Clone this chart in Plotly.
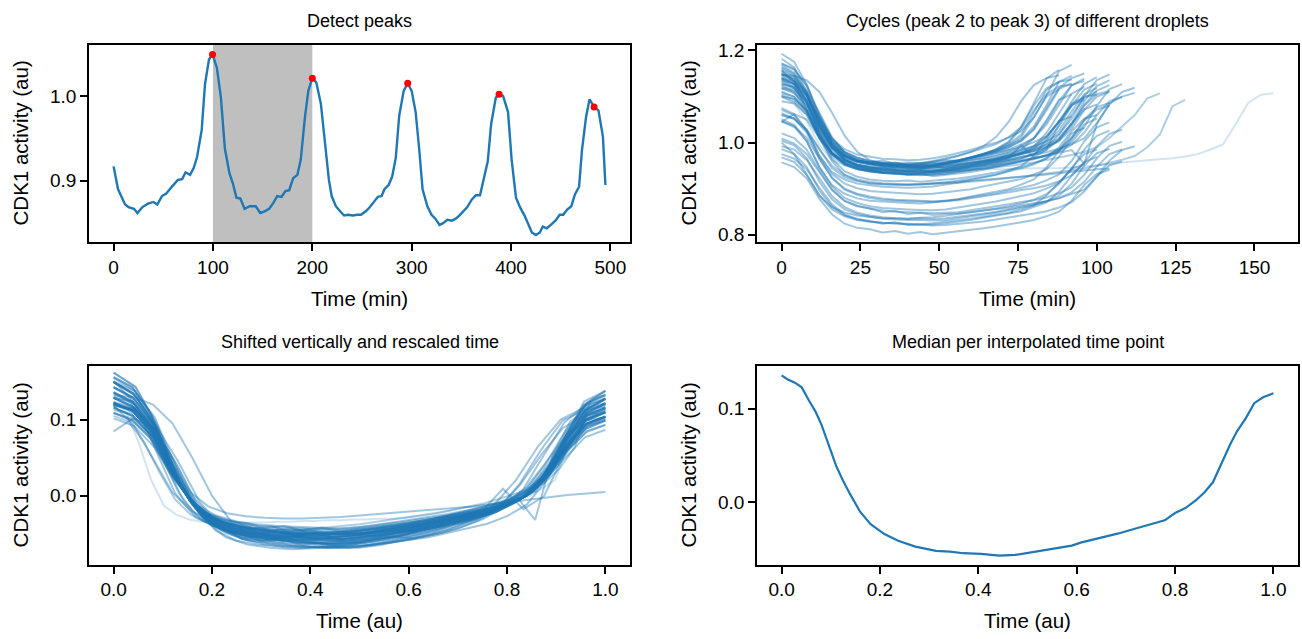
import plotly.graph_objects as go

W, H = 1302, 639
BLUE = "#1f77b4"
FONT = "Liberation Sans, Arial, sans-serif"

# ---------------- Panel 1: single droplet trace ----------------
trace_time = [0, 4.5, 11.6, 15, 20.5, 24, 29, 34.6, 40, 44, 48.7, 53, 58, 64.7, 69, 72.4, 77, 80.6, 84, 88.7,
              92, 96, 99.6, 104, 108, 112, 116.6, 120, 123.7, 127.6, 131.8, 137, 143, 147.7, 152, 156.6, 160.8,
              164.7, 169, 173, 176.8, 180.7, 185, 188.4, 192.6, 196, 200, 204, 208.6, 213, 216.7, 219.5, 223.7,
              228, 232, 236, 240.8, 245, 249, 253.8, 258, 262.6, 266, 269.8, 272.6, 276.8, 280.4, 284, 287.5,
              292, 296, 300, 304, 307.7, 311, 315.8, 320, 324, 328, 331.6, 336, 340.4, 344, 348, 351.7, 356,
              360.6, 364.6, 368.8, 372.3, 376.6, 380, 384.7, 388, 392, 397, 400.6, 405, 409.4, 413.6, 418, 421,
              425, 429, 432, 436, 440, 444.7, 449, 452.6, 456.5, 460.7, 464.3, 468.5, 471.4, 475.5, 479, 483.6,
              488, 492.5, 495]
trace_cdk1 = [0.917, 0.890, 0.872, 0.869, 0.867, 0.862, 0.869, 0.873, 0.875, 0.872, 0.882, 0.885, 0.892, 0.901,
              0.902, 0.910, 0.907, 0.915, 0.928, 0.960, 1.014, 1.043, 1.049, 1.033, 0.998, 0.938, 0.909, 0.897,
              0.880, 0.879, 0.867, 0.870, 0.870, 0.862, 0.864, 0.867, 0.874, 0.882, 0.881, 0.888, 0.889, 0.903,
              0.907, 0.925, 0.975, 1.006, 1.021, 1.016, 0.991, 0.944, 0.901, 0.882, 0.870, 0.864, 0.859, 0.860,
              0.859, 0.860, 0.860, 0.864, 0.869, 0.876, 0.881, 0.882, 0.890, 0.895, 0.905, 0.927, 0.977, 1.006,
              1.015, 1.006, 0.981, 0.936, 0.890, 0.870, 0.860, 0.855, 0.848, 0.850, 0.854, 0.853, 0.855, 0.859,
              0.864, 0.869, 0.878, 0.883, 0.883, 0.901, 0.923, 0.967, 0.998, 1.002, 1.000, 0.981, 0.925, 0.880,
              0.868, 0.859, 0.848, 0.839, 0.836, 0.839, 0.846, 0.844, 0.848, 0.853, 0.860, 0.860, 0.866, 0.870,
              0.884, 0.893, 0.936, 0.975, 0.996, 0.987, 0.983, 0.952, 0.895]
peak_time = [99.6, 200, 296, 388, 483.6]
peak_cdk1 = [1.049, 1.021, 1.015, 1.002, 0.987]
span_start, span_end = 100, 200

# ---------------- Panel 2: cycles of different droplets (4-min sampling) ----------------
cycle_step = 4
cycles = [
    [1.193,1.175,1.126,1.054,1.007,0.986,0.974,0.969,0.965,0.964,0.962,0.963,0.966,0.971,0.977,0.984,0.993,1.000,1.011,1.025,1.054,1.102,1.155,1.169],
    [1.182,1.163,1.109,1.035,0.989,0.971,0.961,0.957,0.954,0.952,0.951,0.953,0.958,0.964,0.971,0.979,0.988,0.997,1.012,1.033,1.085,1.139,1.158],
    [1.171,1.158,1.122,1.058,1.009,0.980,0.968,0.960,0.955,0.957,0.950,0.953,0.948,0.952,0.956,0.961,0.966,0.971,0.978,0.985,0.992,1.003,1.018,1.052,1.101,1.136,1.148],
    [1.164,1.149,1.113,1.047,1.002,0.978,0.967,0.960,0.957,0.955,0.953,0.951,0.952,0.956,0.960,0.964,0.971,0.977,0.983,0.990,1.001,1.014,1.045,1.089,1.127,1.142],
    [1.157,1.143,1.109,1.048,1.001,0.974,0.962,0.954,0.952,0.946,0.948,0.943,0.946,0.946,0.951,0.955,0.960,0.965,0.972,0.978,0.985,0.996,1.010,1.042,1.090,1.123,1.135],
    [1.150,1.134,1.091,1.028,0.987,0.968,0.958,0.953,0.950,0.949,0.947,0.948,0.951,0.956,0.961,0.967,0.974,0.981,0.990,1.003,1.028,1.070,1.116,1.129],
    [1.146,1.133,1.101,1.042,0.998,0.971,0.960,0.953,0.948,0.946,0.945,0.944,0.943,0.945,0.949,0.954,0.958,0.963,0.969,0.976,0.982,0.992,1.006,1.037,1.082,1.113,1.125],
    [1.143,1.127,1.087,1.021,0.976,0.954,0.943,0.938,0.935,0.932,0.931,0.930,0.932,0.937,0.941,0.948,0.953,0.960,0.967,0.978,0.991,1.021,1.065,1.106,1.121],
    [1.139,1.127,1.100,1.053,1.008,0.980,0.966,0.958,0.955,0.950,0.952,0.947,0.949,0.945,0.948,0.951,0.955,0.959,0.963,0.969,0.974,0.979,0.987,0.997,1.009,1.043,1.083,1.110,1.119],
    [1.136,1.120,1.075,1.013,0.975,0.960,0.952,0.948,0.946,0.944,0.943,0.945,0.949,0.954,0.960,0.967,0.974,0.982,0.994,1.012,1.055,1.100,1.116],
    [1.132,1.118,1.084,1.021,0.977,0.954,0.944,0.938,0.934,0.932,0.931,0.929,0.930,0.933,0.938,0.942,0.948,0.953,0.960,0.966,0.976,0.989,1.018,1.060,1.097,1.111],
    [1.129,1.118,1.088,1.035,0.995,0.971,0.961,0.956,0.950,0.951,0.946,0.947,0.946,0.948,0.952,0.955,0.959,0.964,0.970,0.975,0.981,0.990,1.003,1.030,1.071,1.100,1.110],
    [1.125,1.110,1.069,1.009,0.970,0.952,0.942,0.938,0.935,0.934,0.932,0.933,0.936,0.940,0.945,0.951,0.958,0.964,0.973,0.985,1.009,1.049,1.093,1.105],
    [1.118,1.107,1.079,1.032,0.989,0.963,0.952,0.947,0.940,0.942,0.936,0.939,0.934,0.936,0.938,0.941,0.945,0.950,0.955,0.960,0.965,0.971,0.980,0.995,1.022,1.060,1.090,1.099],
    [1.111,1.099,1.066,1.012,0.975,0.957,0.948,0.944,0.941,0.939,0.939,0.938,0.939,0.943,0.947,0.952,0.957,0.962,0.967,0.976,0.987,1.012,1.048,1.082,1.093],
    [1.104,1.094,1.066,1.015,0.977,0.955,0.945,0.939,0.935,0.933,0.932,0.932,0.931,0.932,0.936,0.940,0.943,0.948,0.953,0.959,0.964,0.973,0.985,1.011,1.050,1.077,1.086],
    [1.161,1.145,1.105,1.039,0.994,0.972,0.961,0.956,0.953,0.950,0.949,0.948,0.950,0.955,0.959,0.966,0.971,0.978,0.985,0.996,1.009,1.039,1.083,1.124,1.139],
    [1.154,1.136,1.087,1.018,0.976,0.960,0.951,0.947,0.945,0.942,0.941,0.943,0.948,0.953,0.960,0.968,0.975,0.984,0.997,1.017,1.065,1.114,1.132],
    [1.150,1.137,1.103,1.046,0.994,0.963,0.949,0.943,0.935,0.936,0.930,0.933,0.927,0.930,0.932,0.936,0.941,0.947,0.953,0.959,0.965,0.972,0.984,1.001,1.034,1.080,1.116,1.127],
    [1.100,1.089,1.061,1.010,0.975,0.956,0.947,0.942,0.940,0.938,0.937,0.936,0.936,0.939,0.942,0.946,0.951,0.955,0.960,0.965,0.974,0.984,1.008,1.042,1.072,1.083],
    [1.168,1.151,1.104,1.035,0.990,0.969,0.958,0.953,0.950,0.949,0.946,0.948,0.951,0.956,0.961,0.968,0.976,0.983,0.994,1.007,1.035,1.081,1.132,1.145],
    [1.140,1.126,1.092,1.029,0.985,0.962,0.952,0.946,0.942,0.940,0.939,0.937,0.938,0.941,0.946,0.950,0.956,0.961,0.968,0.974,0.984,0.997,1.026,1.068,1.105,1.119],
    [1.071,1.059,1.028,0.971,0.932,0.911,0.901,0.895,0.893,0.891,0.890,0.888,0.889,0.892,0.895,0.899,0.905,0.910,0.915,0.921,0.931,0.942,0.969,1.007,1.040,1.052],
    [1.064,1.052,1.021,0.965,0.923,0.898,0.887,0.880,0.876,0.874,0.873,0.872,0.871,0.873,0.877,0.881,0.885,0.890,0.896,0.902,0.908,0.918,0.931,0.960,1.003,1.033,1.044],
    [1.051,1.038,1.003,0.946,0.908,0.889,0.879,0.874,0.872,0.870,0.869,0.868,0.870,0.874,0.877,0.883,0.888,0.893,0.899,0.909,0.920,0.946,0.984,1.020,1.032],
    [1.046,1.036,1.010,0.965,0.924,0.900,0.889,0.883,0.879,0.876,0.875,0.874,0.873,0.874,0.875,0.879,0.883,0.887,0.892,0.897,0.901,0.907,0.916,0.929,0.956,0.992,1.019,1.028],
    [1.075,1.062,1.025,0.971,0.936,0.920,0.911,0.907,0.904,0.903,0.902,0.903,0.905,0.909,0.913,0.919,0.925,0.930,0.939,0.949,0.971,1.007,1.047,1.057],
    [1.009,0.998,0.975,0.936,0.897,0.873,0.862,0.857,0.849,0.852,0.845,0.848,0.843,0.845,0.846,0.849,0.852,0.856,0.859,0.864,0.868,0.873,0.879,0.888,0.898,0.927,0.961,0.984,0.992],
    [1.004,0.994,0.966,0.915,0.877,0.855,0.845,0.839,0.835,0.833,0.832,0.832,0.831,0.832,0.836,0.840,0.843,0.848,0.853,0.859,0.864,0.873,0.885,0.911,0.950,0.977,0.986],
    [0.986,0.975,0.947,0.896,0.861,0.842,0.833,0.830,0.824,0.827,0.821,0.822,0.822,0.825,0.828,0.832,0.837,0.841,0.846,0.851,0.860,0.870,0.894,0.928,0.958,0.969],
    [0.975,0.965,0.942,0.902,0.866,0.844,0.835,0.829,0.826,0.824,0.823,0.822,0.820,0.821,0.823,0.826,0.829,0.833,0.837,0.842,0.846,0.851,0.859,0.871,0.894,0.926,0.951,0.959],
    [0.968,0.958,0.930,0.885,0.855,0.840,0.832,0.828,0.826,0.825,0.824,0.823,0.825,0.828,0.831,0.835,0.839,0.843,0.848,0.855,0.864,0.885,0.915,0.943,0.953],
    [0.957,0.947,0.922,0.878,0.844,0.824,0.815,0.812,0.805,0.808,0.802,0.806,0.801,0.804,0.807,0.810,0.814,0.818,0.822,0.827,0.832,0.840,0.850,0.874,0.908,0.932,0.941],
    [1.046,1.034,1.003,0.947,0.905,0.880,0.869,0.862,0.858,0.856,0.855,0.854,0.853,0.855,0.859,0.863,0.867,0.872,0.878,0.884,0.890,0.900,0.913,0.942,0.985,1.015,1.026],
    [1.020,1.010,0.984,0.939,0.898,0.874,0.863,0.857,0.853,0.850,0.849,0.848,0.847,0.848,0.849,0.853,0.857,0.861,0.866,0.871,0.875,0.881,0.890,0.903,0.930,0.966,0.993,1.002],
    [1.060,1.052,1.025,0.985,0.950,0.930,0.920,0.915,0.912,0.910,0.909,0.909,0.910,0.911,0.913,0.915,0.917,0.920,0.923,0.926,0.929,0.932,0.936,0.940,0.944,0.950,0.956,0.963,0.971,0.990,1.018,1.079,1.093],
    [1.118,1.110,1.082,1.035,0.990,0.962,0.948,0.941,0.937,0.935,0.934,0.934,0.935,0.936,0.938,0.940,0.943,0.946,0.949,0.953,0.957,0.962,0.967,0.973,0.980,0.990,1.010,1.035,1.060,1.096,1.107],
    [1.100,1.085,1.045,0.995,0.962,0.950,0.944,0.941,0.940,0.939,0.939,0.940,0.940,0.941,0.941,0.942,0.942,0.943,0.943,0.944,0.944,0.945,0.945,0.946,0.948,0.950,0.953,0.957,0.960,0.962,0.964,0.966,0.970,0.975,0.985,0.996,1.040,1.086,1.104,1.107],
    [1.158,1.130,1.070,1.010,0.978,0.965,0.958,0.955,0.951,0.953,0.950,0.952,0.955,0.953,0.958,0.962,0.966,0.973,0.980,0.992,1.010,1.045,1.090,1.125,1.134],
    [1.147,1.145,1.135,1.110,1.065,1.015,0.980,0.962,0.955,0.950,0.948,0.947,0.949,0.950,0.953,0.957,0.960,0.966,0.972,0.978,0.988,1.003,1.035,1.080,1.115,1.128],
    [1.135,1.128,1.102,1.055,1.000,0.972,0.960,0.957,0.961,0.954,0.952,0.955,0.958,0.962,0.960,0.967,0.975,0.985,1.000,1.030,1.070,1.105,1.122,1.126],
    [1.126,1.122,1.095,1.050,0.998,0.965,0.950,0.942,0.945,0.940,0.938,0.941,0.939,0.942,0.945,0.948,0.952,0.957,0.963,0.968,0.975,0.988,1.005,1.040,1.080,1.105,1.112],
    [1.148,1.140,1.105,1.045,0.995,0.970,0.960,0.956,0.954,0.955,0.957,0.956,0.960,0.966,0.972,0.980,0.992,1.012,1.045,1.090,1.125,1.140,1.146],
    [1.120,1.115,1.090,1.040,0.990,0.962,0.952,0.946,0.944,0.947,0.943,0.944,0.946,0.950,0.953,0.957,0.962,0.967,0.975,0.982,0.993,1.012,1.045,1.080,1.100,1.104],
    [1.172,1.160,1.125,1.062,1.005,0.975,0.962,0.957,0.955,0.953,0.954,0.956,0.955,0.958,0.962,0.967,0.972,0.980,0.990,1.005,1.030,1.075,1.118,1.140,1.150],
    [1.090,1.085,1.060,1.012,0.965,0.938,0.926,0.920,0.917,0.916,0.918,0.915,0.917,0.920,0.922,0.926,0.930,0.935,0.941,0.947,0.955,0.966,0.982,1.010,1.048,1.072,1.080],
    [1.139,1.133,1.110,1.065,1.012,0.978,0.962,0.955,0.951,0.950,0.952,0.950,0.953,0.957,0.962,0.968,0.975,0.986,1.002,1.035,1.080,1.118,1.132,1.137],
    [1.000,0.975,0.930,0.885,0.860,0.848,0.842,0.839,0.836,0.836,0.835,0.837,0.838,0.841,0.845,0.848,0.852,0.857,0.862,0.868,0.876,0.888,0.910,0.945,0.975,0.985],
    [0.992,0.985,0.962,0.922,0.884,0.860,0.848,0.842,0.838,0.836,0.835,0.836,0.834,0.836,0.839,0.842,0.846,0.850,0.855,0.860,0.866,0.872,0.880,0.892,0.915,0.948,0.975,0.985],
    [1.108,1.100,1.070,1.020,0.975,0.952,0.942,0.937,0.934,0.933,0.933,0.934,0.936,0.939,0.943,0.947,0.952,0.958,0.966,0.995,0.968,0.985,1.040,1.085,1.098],
    [1.060,1.052,1.028,0.985,0.945,0.925,0.916,0.912,0.910,0.909,0.909,0.910,0.911,0.913,0.915,0.917,0.919,0.921,0.923,0.925,0.928,0.931,0.934,0.937,0.940,0.942,0.944],
    [1.100,1.095,1.070,1.025,0.980,0.955,0.945,0.940,0.938,0.937,0.936,0.937,0.938,0.940,0.942,0.945,0.948,0.952,0.956,0.961,0.966,0.972,0.978,0.984,0.955,1.040,1.085,1.100,1.108],
    [1.045,1.062,1.050,1.010,0.960,0.930,0.918,0.912,0.909,0.908,0.908,0.909,0.911,0.914,0.917,0.921,0.926,0.931,0.937,0.944,0.953,0.966,0.990,1.025,1.052,1.060],
]
cycle_alpha = [0.42] * 35 + [0.36, 0.36, 0.2] + [0.42] * 15

# ---------------- Panel 4: median per interpolated time point ----------------
median_time = [0, 0.0126, 0.027, 0.041, 0.055, 0.069, 0.081, 0.097, 0.111, 0.125, 0.139, 0.160, 0.181, 0.209,
               0.237, 0.272, 0.314, 0.342, 0.370, 0.405, 0.443, 0.475, 0.517, 0.559, 0.590, 0.608, 0.650, 0.685,
               0.720, 0.755, 0.779, 0.800, 0.821, 0.842, 0.860, 0.877, 0.895, 0.912, 0.926, 0.944, 0.961, 0.979, 1.0]
median_cdk1 = [0.1359, 0.1315, 0.128, 0.123, 0.1095, 0.097, 0.083, 0.060, 0.0388, 0.0229, 0.0088, -0.0106,
               -0.0237, -0.0343, -0.0414, -0.0477, -0.0523, -0.053, -0.0548, -0.0555, -0.0573, -0.0566, -0.053,
               -0.0495, -0.0467, -0.0435, -0.0382, -0.0336, -0.0283, -0.0230, -0.0195, -0.0117, -0.0064, 0.0017,
               0.0106, 0.0212, 0.0424, 0.0618, 0.0759, 0.0901, 0.106, 0.1124, 0.1166]

fig = go.Figure()

# panel 1
fig.add_shape(type="rect", xref="x", yref="y domain", x0=span_start, x1=span_end, y0=0, y1=1,
              fillcolor="#bfbfbf", line=dict(width=0), layer="below")
fig.add_trace(go.Scatter(x=trace_time, y=trace_cdk1, mode="lines", line=dict(color=BLUE, width=2.4),
                         xaxis="x", yaxis="y", showlegend=False))
fig.add_trace(go.Scatter(x=peak_time, y=peak_cdk1, mode="markers", marker=dict(color="red", size=7),
                         xaxis="x", yaxis="y", showlegend=False))

# panels 2 and 3 (panel 3: time rescaled to the cycle length, values shifted by the cycle mean)
for vals, a in zip(cycles, cycle_alpha):
    t = [i * cycle_step for i in range(len(vals))]
    col = f"rgba(31,119,180,{a})"
    fig.add_trace(go.Scatter(x=t, y=vals, mode="lines", line=dict(color=col, width=2),
                             xaxis="x2", yaxis="y2", showlegend=False))
    T = t[-1]
    mean_v = sum(vals) / len(vals)
    fig.add_trace(go.Scatter(x=[ti / T for ti in t], y=[v - mean_v for v in vals], mode="lines",
                             line=dict(color=col, width=2), xaxis="x3", yaxis="y3", showlegend=False))

# panel 4
fig.add_trace(go.Scatter(x=median_time, y=median_cdk1, mode="lines", line=dict(color=BLUE, width=2.2),
                         xaxis="x4", yaxis="y4", showlegend=False))

def px_x(p):
    return p / W

def px_y(p):
    return 1 - p / H

colL = [px_x(89), px_x(630)]
colR = [px_x(757), px_x(1298)]
rowT = [px_y(241), px_y(41)]
rowB = [px_y(567), px_y(366)]

ax_common = dict(showline=True, mirror=True, linecolor="black", linewidth=1.5, ticks="outside",
                 ticklen=7, tickwidth=1.5, tickcolor="black", showgrid=False, zeroline=False,
                 tickfont=dict(family=FONT, size=19, color="black"))

fig.update_layout(
    width=W, height=H, margin=dict(l=0, r=0, t=0, b=0), plot_bgcolor="white", paper_bgcolor="white",
    font=dict(family=FONT, color="black"),
    xaxis=dict(ax_common, domain=colL, anchor="y", range=[-24.75, 519.75], tick0=0, dtick=100),
    yaxis=dict(ax_common, domain=rowT, anchor="x", range=[0.8274, 1.0606], tick0=0, dtick=0.1, tickformat=".1f"),
    xaxis2=dict(ax_common, domain=colR, anchor="y2", range=[-7.8, 163.8], tick0=0, dtick=25),
    yaxis2=dict(ax_common, domain=rowT, anchor="x2", range=[0.7835, 1.2129], tick0=0, dtick=0.2, tickformat=".1f"),
    xaxis3=dict(ax_common, domain=colL, anchor="y3", range=[-0.05, 1.05], tick0=0, dtick=0.2, tickformat=".1f"),
    yaxis3=dict(ax_common, domain=rowB, anchor="x3", range=[-0.0913, 0.1708], tick0=0, dtick=0.1, tickformat=".1f"),
    xaxis4=dict(ax_common, domain=colR, anchor="y4", range=[-0.05, 1.05], tick0=0, dtick=0.2, tickformat=".1f"),
    yaxis4=dict(ax_common, domain=rowB, anchor="x4", range=[-0.0672, 0.1459], tick0=0, dtick=0.1, tickformat=".1f"),
)

titles = [("Detect peaks", (89 + 630) / 2, 17),
          ("Cycles (peak 2 to peak 3) of different droplets", (757 + 1298) / 2, 17),
          ("Shifted vertically and rescaled time", (89 + 630) / 2, 342),
          ("Median per interpolated time point", (757 + 1298) / 2, 342)]
xlabels = [("Time (min)", (89 + 630) / 2, 298), ("Time (min)", (757 + 1298) / 2, 298),
           ("Time (au)", (89 + 630) / 2, 623), ("Time (au)", (757 + 1298) / 2, 623)]
ylabels = [("CDK1 activity (au)", 20, 141), ("CDK1 activity (au)", 688, 141),
           ("CDK1 activity (au)", 20, 466.5), ("CDK1 activity (au)", 688, 466.5)]

ann = []
for txt, x, y in titles:
    ann.append(dict(text=txt, x=px_x(x), y=px_y(y), xref="paper", yref="paper", showarrow=False,
                    xanchor="center", yanchor="middle", font=dict(family=FONT, size=18, color="black")))
for txt, x, y in xlabels:
    ann.append(dict(text=txt, x=px_x(x), y=px_y(y), xref="paper", yref="paper", showarrow=False,
                    xanchor="center", yanchor="middle", font=dict(family=FONT, size=20.5, color="black")))
for txt, x, y in ylabels:
    ann.append(dict(text=txt, x=px_x(x), y=px_y(y), xref="paper", yref="paper", showarrow=False,
                    xanchor="center", yanchor="middle", textangle=-90,
                    font=dict(family=FONT, size=20.5, color="black")))
fig.update_layout(annotations=ann)

fig.write_html("out.html")
